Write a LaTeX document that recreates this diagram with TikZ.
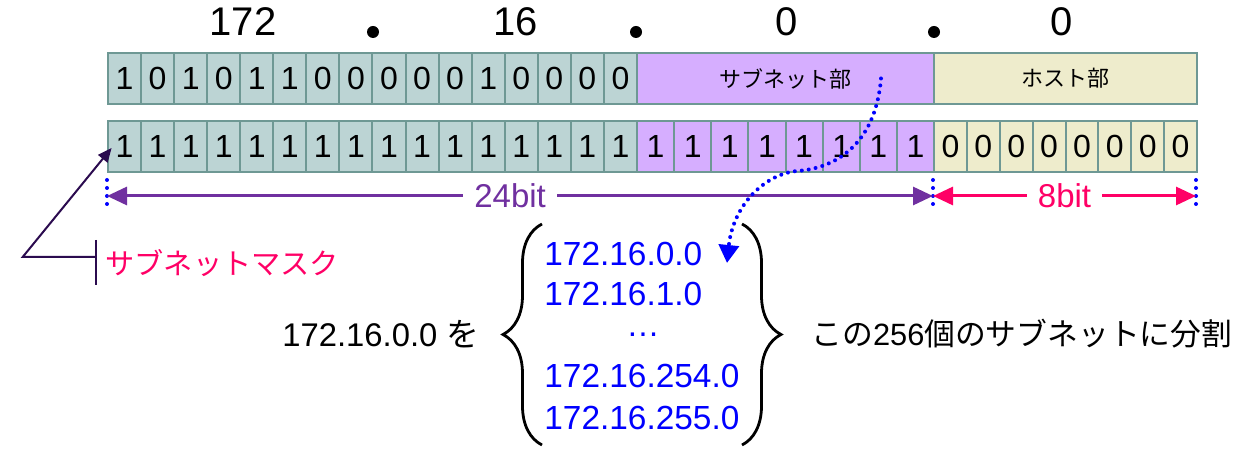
\documentclass[tikz,border=0pt]{standalone}
\usepackage{fontspec}
\setmainfont{Liberation Sans}
\newfontfamily\jpfont{Noto Sans CJK JP}
\usepackage{tikz}
\usetikzlibrary{arrows.meta,decorations.pathreplacing}
\definecolor{netfill}{RGB}{188,212,212}
\definecolor{cellline}{RGB}{110,152,148}
\definecolor{subfill}{RGB}{214,174,255}
\definecolor{hostfill}{RGB}{238,236,204}
\definecolor{maskpink}{RGB}{255,0,102}
\definecolor{netpurple}{RGB}{112,48,160}
\definecolor{calloutcol}{RGB}{43,11,79}

\begin{document}
\begin{tikzpicture}[x=0.5pt,y=-0.5pt,
	cell/.style={draw=cellline,line width=1pt,inner sep=0pt,anchor=north west,minimum height=25.5pt,font=\fontsize{16}{19}\selectfont},
	netcell/.style={cell,fill=netfill,minimum width=16.53pt},
	subcell/.style={cell,fill=subfill,minimum width=18.56pt},
	hostcell/.style={cell,fill=hostfill,minimum width=16.44pt},
	octet/.style={font=\fontsize{20}{24}\selectfont},
	octdot/.style={circle,fill=black,inner sep=0pt,minimum size=6pt},
	addr/.style={text=blue,inner sep=0pt,anchor=west,font=\fontsize{16.7}{20}\selectfont},
	bitarrow/.style={{Triangle[length=10pt,width=9pt]}-{Triangle[length=10pt,width=9pt]},line width=1.5pt},
	bitlabel/.style={fill=white,inner xsep=5.5pt,inner ysep=1pt,font=\fontsize{16.5}{19}\selectfont},
	blueticks/.style={blue,line width=2pt,line cap=round,dash pattern=on 0pt off 4pt},
	bracket/.style={line width=1.4pt,decorate,decoration={brace,amplitude=19.5pt}}]
	\useasboundingbox (0,0) rectangle (1259,458);

	% octets
	\node[octet] (o1) at (243,22) {172};
	\node[octet] (o2) at (516,22) {16};
	\node[octet] (o3) at (787,22) {0};
	\node[octet] (o4) at (1062,22) {0};
	\node[octdot] (d1) at (373,32) {};
	\node[octdot] (d2) at (636,32) {};
	\node[octdot] (d3) at (934,32) {};

	% address row
	\foreach \b [count=\i] in {1,0,1,0,1,1,0,0,0,0,0,1,0,0,0,0}
		\node[netcell] (a\i) at ({107+(\i-1)*33.06},52) {\b};
	\node[subcell,minimum width=148.5pt,font=\jpfont\fontsize{11}{13}\selectfont] (subnet) at (636,52) {サブネット部};
	\node[hostcell,minimum width=131.5pt,font=\jpfont\fontsize{11}{13}\selectfont] (host) at (933,52) {ホスト部};

	% mask row
	\foreach \i in {1,...,16}
		\node[netcell] (m\i) at ({107+(\i-1)*33.06},120) {1};
	\foreach \i in {1,...,8}
		\node[subcell] (s\i) at ({636+(\i-1)*37.125},120) {1};
	\foreach \i in {1,...,8}
		\node[hostcell] (h\i) at ({933+(\i-1)*32.875},120) {0};

	% bit widths
	\coordinate (L) at (107,196);
	\coordinate (M) at (933,196);
	\coordinate (R) at (1196,196);
	\foreach \p in {L,M,R}
		\draw[blueticks] ([yshift=8pt]\p) -- ([yshift=-5.5pt]\p);
	\draw[bitarrow,netpurple] (L) -- node[pos=0.488,bitlabel,text=netpurple] (w24) {24bit} (M);
	\draw[bitarrow,maskpink] (M) -- node[bitlabel,text=maskpink] (w8) {8bit} (R);

	% subnet mask label
	\node[text=maskpink,anchor=west,inner sep=0pt,font=\jpfont\fontsize{14.6}{17}\selectfont] (mask) at (105,263) {サブネットマスク};
	\coordinate (maskbar) at (95.7,257);
	\coordinate (maskbend) at (22.7,257);
	\draw[calloutcol,line width=1pt] (95.7,240) -- (95.7,285);
	\draw[calloutcol,line width=1pt,-{Triangle[length=7pt,width=6pt]}] (maskbar) -- (maskbend) -- ([xshift=2.3pt,yshift=-0.75pt]m1.west);

	% subnets
	\node[font=\fontsize{16.4}{19}\selectfont,inner sep=0pt,anchor=west] (src) at (282,334) {172.16.0.0 {\jpfont を}};
	\draw[bracket] (542,445) -- (542,224);
	\node[addr] (n0) at (544,254) {172.16.0.0};
	\node[addr] (n1) at (544,294) {172.16.1.0};
	\node[addr,anchor=center] (ndots) at (643,335) {…};
	\node[addr] (n254) at (544,376) {172.16.254.0};
	\node[addr] (n255) at (544,418) {172.16.255.0};
	\draw[bracket] (742,224) -- (742,445);
	\node[font=\fontsize{15.4}{18}\selectfont,inner sep=0pt,anchor=west] (dst) at (811,334) {{\jpfont この}256{\jpfont 個のサブネットに分割}};

	% subnet part to first subnet
	\coordinate (tip) at (727,263);
	\draw[blue,line width=2pt,line cap=round,dash pattern=on 0pt off 3.5pt,-{Triangle[length=9pt,width=10pt]}] ([xshift=47.75pt]subnet.center) .. controls (876,140) and (840,168) .. (797,171) .. controls (765,174) and (733,205) .. (tip);
\end{tikzpicture}
\end{document}
